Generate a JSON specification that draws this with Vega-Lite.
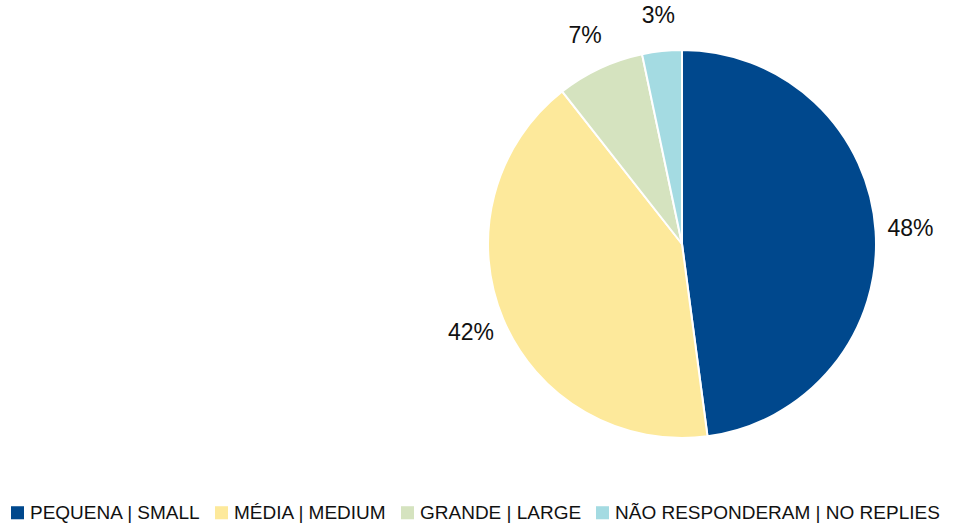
{
  "$schema": "https://vega.github.io/schema/vega-lite/v6.json",
  "autosize": {"type": "none"},
  "width": 546,
  "height": 488,
  "padding": {"left": 409, "top": 0, "right": 0, "bottom": 36},
  "background": "white",
  "data": {
    "values": [
      {"category": "PEQUENA | SMALL", "value": 47.9, "label": "48%", "idx": 1},
      {"category": "MÉDIA | MEDIUM", "value": 41.5, "label": "42%", "idx": 2},
      {"category": "GRANDE | LARGE", "value": 7.3, "label": "7%", "idx": 3},
      {"category": "NÃO RESPONDERAM | NO REPLIES", "value": 3.3, "label": "3%", "idx": 4}
    ]
  },
  "encoding": {
    "theta": {"field": "value", "type": "quantitative", "stack": true},
    "order": {"field": "idx", "type": "quantitative"}
  },
  "layer": [
    {
      "mark": {"type": "arc", "outerRadius": 194, "stroke": "white", "strokeWidth": 2},
      "encoding": {
        "color": {
          "field": "category",
          "type": "nominal",
          "sort": null,
          "scale": {
            "domain": ["PEQUENA | SMALL", "MÉDIA | MEDIUM", "GRANDE | LARGE", "NÃO RESPONDERAM | NO REPLIES"],
            "range": ["#00488d", "#fde99b", "#d5e3bf", "#a4dbe2"]
          },
          "legend": {
            "orient": "none",
            "legendX": -401,
            "legendY": 503,
            "direction": "horizontal",
            "title": null,
            "symbolType": "square",
            "symbolSize": 170,
            "symbolStrokeWidth": 0,
            "symbolOffset": 0,
            "labelFont": "Liberation Sans",
            "labelFontSize": 19,
            "labelColor": "#111111",
            "labelOffset": 3,
            "columnPadding": 11,
            "labelLimit": 400
          }
        }
      }
    },
    {
      "mark": {"type": "text", "radius": 229, "font": "Liberation Sans", "fontSize": 23, "color": "#111111"},
      "encoding": {
        "text": {"field": "label", "type": "nominal"}
      }
    }
  ],
  "config": {"view": {"stroke": null}}
}
